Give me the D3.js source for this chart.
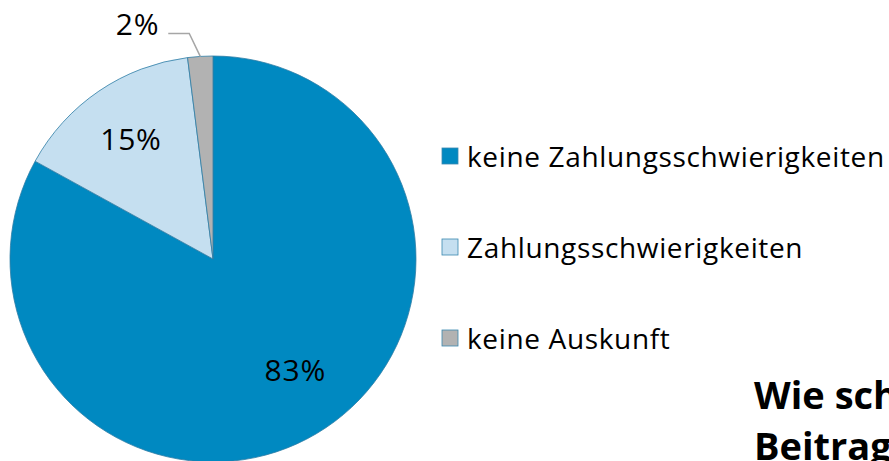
<!DOCTYPE html>
<html>
<head>
<meta charset="utf-8">
<script src="https://cdn.jsdelivr.net/npm/d3@7.9.0/dist/d3.min.js"></script>
<style>
  html, body { margin: 0; padding: 0; background: #fff; overflow: hidden; }
  svg { display: block; font-family: "Open Sans", Lato, sans-serif; }
</style>
</head>
<body>
<svg id="chart" width="889" height="461"></svg>
<script>
const categories = ['keine Zahlungsschwierigkeiten', 'Zahlungsschwierigkeiten', 'keine Auskunft'];
const shares = [83, 15, 2];
const sliceColors = ['#0089c1', '#c5dff0', '#b2b2b2'];
const titleLines = ['Wie schätzen Sie Ihre', 'Beitragszahlungen ein?'];

const width = 889;
const height = 461;
const cx = 213;
const cy = 259;
const radius = 203;

const svg = d3.select('#chart');

const slices = categories.map((name, i) => ({ name, value: shares[i], color: sliceColors[i] }));

const pie = d3.pie().sort(null).value((d) => d.value);
const arcs = pie(slices);

const arc = d3.arc().innerRadius(0).outerRadius(radius);
const labelArc = d3.arc().innerRadius(146).outerRadius(146);

const pieLayer = svg.append('g').attr('transform', `translate(${cx},${cy})`);

pieLayer
  .selectAll('path')
  .data(arcs)
  .join('path')
  .attr('d', arc)
  .attr('fill', (d) => d.data.color)
  .attr('stroke', '#2f7ea6')
  .attr('stroke-width', 0.8);

// inside labels for the two big slices
pieLayer
  .selectAll('text.inner')
  .data(arcs.filter((d) => d.data.value >= 5))
  .join('text')
  .attr('class', 'inner')
  .attr('x', (d, i) => labelArc.centroid(d)[0] + (i === 0 ? 8 : 0))
  .attr('y', (d, i) => labelArc.centroid(d)[1] + (i === 0 ? -15 : 0))
  .attr('text-anchor', 'middle')
  .attr('dominant-baseline', 'central')
  .attr('font-size', 30)
  .attr('letter-spacing', 0.8)
  .attr('fill', '#000')
  .text((d) => `${d.data.value}%`);

// small slice gets an outside label with a leader line
const small = arcs.filter((d) => d.data.value < 5);
small.forEach((d) => {
  const mid = (d.startAngle + d.endAngle) / 2;
  const edge = [Math.sin(mid) * radius, -Math.cos(mid) * radius];
  const elbow = [edge[0] - 11, edge[1] - 23];
  const end = [elbow[0] - 21, elbow[1]];

  pieLayer
    .append('path')
    .attr('d', d3.line()([edge, elbow, end]))
    .attr('fill', 'none')
    .attr('stroke', '#a6a6a6')
    .attr('stroke-width', 1.5);

  pieLayer
    .append('text')
    .attr('x', end[0] - 9)
    .attr('y', end[1] - 10)
    .attr('text-anchor', 'end')
    .attr('dominant-baseline', 'central')
    .attr('font-size', 30)
    .attr('letter-spacing', 0.8)
    .attr('fill', '#000')
    .text(`${d.data.value}%`);
});

// legend
const legend = svg.append('g').attr('transform', 'translate(442,148)');
const legendItem = legend
  .selectAll('g')
  .data(slices)
  .join('g')
  .attr('transform', (d, i) => `translate(0,${i * 91})`);

legendItem
  .append('rect')
  .attr('width', 16)
  .attr('height', 16)
  .attr('fill', (d) => d.color)
  .attr('stroke', '#3a88b0')
  .attr('stroke-width', 0.8);

legendItem
  .append('text')
  .attr('x', 25)
  .attr('y', 19)
  .attr('font-size', 28)
  .attr('letter-spacing', 0.65)
  .attr('fill', '#000')
  .text((d) => d.name);

// title, cut off at the right edge as in the original slide
svg
  .append('g')
  .selectAll('text')
  .data(titleLines)
  .join('text')
  .attr('x', 754)
  .attr('y', (d, i) => 409 + i * 51)
  .attr('font-size', 38)
  .attr('font-weight', 'bold')
  .attr('fill', '#000')
  .text((d) => d);
</script>
</body>
</html>
